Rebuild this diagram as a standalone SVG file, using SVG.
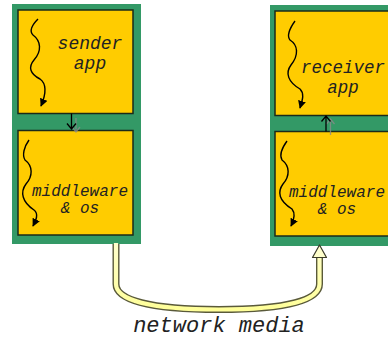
<svg xmlns="http://www.w3.org/2000/svg" width="388" height="339" viewBox="0 0 388 339">
<defs>
<style>
.host{fill:#339966}
.box{fill:#ffcc00;stroke:#1a2a1a;stroke-width:1.5}
.sq{fill:none;stroke:#000;stroke-width:1.4}
.lbl{font-family:"Liberation Mono","Courier New",monospace;font-style:italic;fill:#222;text-anchor:middle}
.conn{fill:none;stroke:#000;stroke-width:1.3}
.shadow{fill:none;stroke:#8a8a8a;stroke-width:1.3;opacity:0.8}
</style>
<marker id="tri" viewBox="0 0 10 10" refX="9" refY="5" markerWidth="8" markerHeight="8" markerUnits="userSpaceOnUse" orient="auto">
<path d="M0,0 L10,5 L0,10 Z" fill="#000"/>
</marker>
<linearGradient id="pipeg" x1="0" y1="0" x2="0" y2="1">
<stop offset="0" stop-color="#ffffcc"/>
<stop offset="1" stop-color="#ffff99"/>
</linearGradient>
</defs>
<rect width="388" height="339" fill="#fff"/>

<g id="sender-host">
<rect class="host" x="12" y="4" width="129" height="240"/>
</g>
<g id="sender-app">
<rect class="box" x="18" y="10" width="115" height="103.5"/>
<path class="sq" d="M38,19 C32,25 29,31 33,35 C41,41 42,51 34,60 C28,67 30,74 40,79 C47,84 46,94 41,106" marker-end="url(#tri)"/>
<text class="lbl" x="90" y="49" font-size="18">sender</text>
<text class="lbl" x="90" y="69" font-size="18">app</text>
</g>
<g id="sender-mw">
<rect class="box" x="18" y="130.5" width="115" height="104.5"/>
<path class="sq" d="M29,140 C24,147 22,155 25,160 C33,166 33,176 26,184 C20,192 22,202 34,210 C39,214 36,220 33,226" marker-end="url(#tri)"/>
<text class="lbl" x="80" y="196" font-size="16">middleware</text>
<text class="lbl" x="80" y="213" font-size="16">&amp; os</text>
</g>

<g id="receiver-host">
<rect class="host" x="270" y="5" width="125" height="241"/>
</g>
<g id="receiver-app">
<rect class="box" x="275" y="11" width="120" height="104.5"/>
<path class="sq" d="M295,21 C290,28 286,35 290,40 C298,45 299,55 291,65 C285,73 288,82 300,89 C305,94 302,101 300,108" marker-end="url(#tri)"/>
<text class="lbl" x="343" y="73" font-size="17.5">receiver</text>
<text class="lbl" x="343" y="93" font-size="17.5">app</text>
</g>
<g id="receiver-mw">
<rect class="box" x="275" y="131.5" width="120" height="104.5"/>
<path class="sq" d="M287,141 C282,148 279,155 282,160 C290,166 290,176 283,184 C277,192 279,201 292,209 C296,214 294,220 291,226" marker-end="url(#tri)"/>
<text class="lbl" x="337" y="197" font-size="16">middleware</text>
<text class="lbl" x="337" y="214" font-size="16">&amp; os</text>
</g>

<g id="connectors">
<path class="shadow" d="M76,118 L76,132 M72,127 L76,132 L80,127"/>
<path class="conn" d="M71.5,113.5 L71.5,129 M67,123.5 L71.5,129 L76,123.5"/>
<path class="shadow" d="M330.5,135 L330.5,119 M326.5,124 L330.5,119 L334.5,124"/>
<path class="conn" d="M326,131.5 L326,116 M321.5,121.5 L326,116 L330.5,121.5"/>
<g id="network-pipe">
<path d="M116,244 L116,284 C116,300 150,309.5 219,309.5 C288,309.5 319.5,300 319.5,284 L319.5,257" fill="none" stroke="#5a5a3a" stroke-width="7"/>
<path d="M116,243 L116,284 C116,300 150,309.5 219,309.5 C288,309.5 319.5,300 319.5,284 L319.5,256" fill="none" stroke="url(#pipeg)" stroke-width="4.2"/>
<path d="M312.5,257.5 L326.5,257.5 L319.5,245 Z" fill="#ffffcc" stroke="#3a3a2a" stroke-width="1.2" stroke-linejoin="round"/>
</g>
</g>
<text class="lbl" x="219" y="332" font-size="22">network media</text>
</svg>
